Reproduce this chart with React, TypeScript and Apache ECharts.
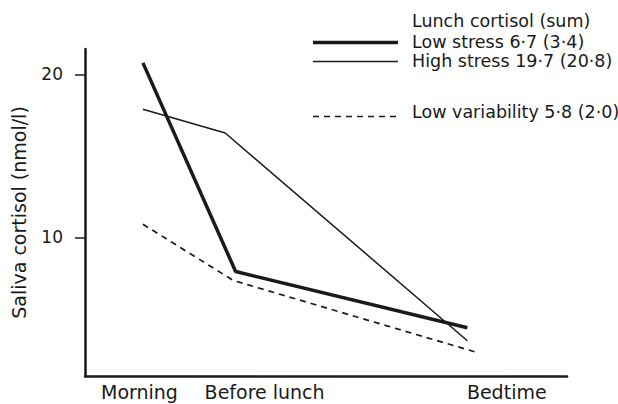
import React, { useEffect, useRef } from "react";
import * as echarts from "echarts";

// ---- data ----
const legendTitle = "Lunch cortisol (sum)";
const seriesNames = [
  "Low stress 6·7 (3·4)",
  "High stress 19·7 (20·8)",
  "Low variability 5·8 (2·0)",
];
// sampling times (hours of the day)
const lowStressTimes = [8, 12, 22];
const lowStressValues = [20.7, 7.9, 4.45];
const highStressTimes = [8, 11.55, 22];
const highStressValues = [17.85, 16.4, 3.65];
const lowVarTimes = [8, 11.9, 22.5];
const lowVarValues = [10.8, 7.35, 2.9];

const xLabels = ["Morning", "Before lunch", "Bedtime"];
const xLabelPositions = [7.85, 13.25, 23.7];
const yTicks = [10, 20];
const yAxisName = "Saliva cortisol (nmol/l)";

const FONT = "'DejaVu Sans', sans-serif";
const INK = "#1a1a1a";

function pairs(xs: number[], ys: number[]) {
  return xs.map((x, i) => [x, ys[i]]);
}

export default function App() {
  const ref = useRef<HTMLDivElement>(null);
  useEffect(() => {
    if (!ref.current) return;
    const chart = echarts.init(ref.current, null, { renderer: "svg" });
    const legendText = (text: string, y: number) => ({
      type: "text",
      x: 412,
      y,
      silent: true,
      style: {
        text,
        fill: INK,
        fontFamily: FONT,
        fontSize: 17.5,
        align: "left",
        verticalAlign: "middle",
      },
    });
    chart.setOption({
      animation: false,
      backgroundColor: "#ffffff",
      grid: { left: 85, top: 49, width: 482, height: 327 },
      xAxis: {
        type: "value",
        min: 5.5,
        max: 26.3,
        splitLine: { show: false },
        axisTick: { show: false },
        axisLine: { show: true, onZero: false, lineStyle: { color: INK, width: 2.5 } },
        axisLabel: {
          customValues: xLabelPositions,
          margin: 6,
          color: INK,
          fontFamily: FONT,
          fontSize: 19,
          hideOverlap: false,
          formatter: (v: number) => {
            const i = xLabelPositions.findIndex((p) => Math.abs(p - v) < 1e-6);
            return i >= 0 ? xLabels[i] : "";
          },
        },
      },
      yAxis: {
        type: "value",
        min: 1.49,
        max: 21.55,
        splitLine: { show: false },
        axisLine: { show: true, onZero: false, lineStyle: { color: INK, width: 2.5 } },
        axisTick: {
          show: true,
          customValues: yTicks,
          length: 10,
          lineStyle: { color: INK, width: 1.5 },
        },
        axisLabel: {
          customValues: yTicks,
          margin: 22,
          color: INK,
          fontFamily: FONT,
          fontSize: 17,
        },
        name: yAxisName,
        nameLocation: "middle",
        nameGap: 57,
        nameTextStyle: { color: INK, fontFamily: FONT, fontSize: 19 },
      },
      series: [
        {
          name: seriesNames[0],
          type: "line",
          data: pairs(lowStressTimes, lowStressValues),
          symbol: "none",
          silent: true,
          lineStyle: { color: INK, width: 3.5 },
        },
        {
          name: seriesNames[1],
          type: "line",
          data: pairs(highStressTimes, highStressValues),
          symbol: "none",
          silent: true,
          lineStyle: { color: INK, width: 1.5 },
        },
        {
          name: seriesNames[2],
          type: "line",
          data: pairs(lowVarTimes, lowVarValues),
          symbol: "none",
          silent: true,
          lineStyle: { color: INK, width: 1.7, type: [6, 5] },
        },
      ],
      graphic: [
        legendText(legendTitle, 20.5),
        {
          type: "line",
          silent: true,
          shape: { x1: 313, y1: 42.5, x2: 398, y2: 42.5 },
          style: { stroke: INK, lineWidth: 3.5 },
        },
        legendText(seriesNames[0], 42),
        {
          type: "line",
          silent: true,
          shape: { x1: 313, y1: 61.5, x2: 398, y2: 61.5 },
          style: { stroke: INK, lineWidth: 1.5 },
        },
        legendText(seriesNames[1], 61),
        {
          type: "line",
          silent: true,
          shape: { x1: 313, y1: 116.5, x2: 398, y2: 116.5 },
          style: { stroke: INK, lineWidth: 1.7, lineDash: [6, 5] },
        },
        legendText(seriesNames[2], 112),
      ],
    });
    return () => chart.dispose();
  }, []);
  return (
    <div
      ref={ref}
      style={{ position: "fixed", left: 0, top: 0, width: 618, height: 404 }}
    />
  );
}
